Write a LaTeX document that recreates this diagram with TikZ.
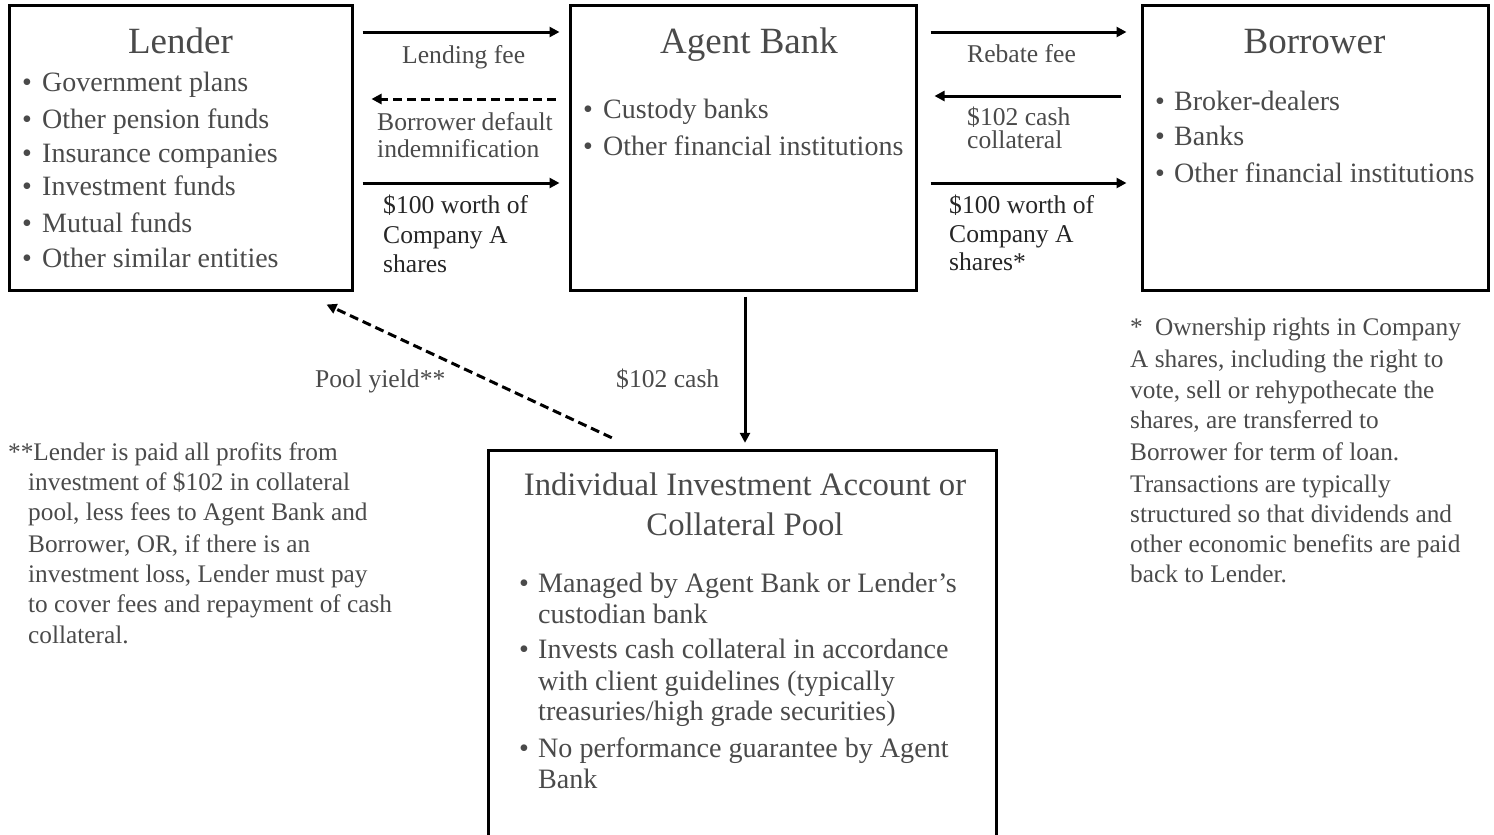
\documentclass[tikz,border=0pt]{standalone}
\usepackage{fontspec}
\setmainfont{Liberation Serif}
\usetikzlibrary{arrows.meta}
\definecolor{tg}{HTML}{4A4A4A}
\definecolor{td}{HTML}{262626}
\tikzset{
  box/.style={draw=black, line width=3pt, inner sep=0pt},
  txt/.style={anchor=base west, inner sep=0pt, text=tg},
  ttl/.style={anchor=base, inner sep=0pt, text=tg, font=\fontsize{37}{40}\selectfont},
  pttl/.style={anchor=base, inner sep=0pt, text=tg, font=\fontsize{32.7}{40}\selectfont},
  bl/.style={txt, font=\fontsize{28}{35}\selectfont},
  pbl/.style={txt, font=\fontsize{28.1}{32}\selectfont},
  lb/.style={txt, font=\fontsize{25.6}{30}\selectfont},
  lbd/.style={lb, text=td},
  fn/.style={txt, font=\fontsize{25.3}{30}\selectfont},
  arr/.style={draw=black, line width=3pt, -{Triangle[length=10pt,width=10pt]}},
  darr/.style={arr, dash pattern=on 9pt off 5pt},
}
\newcommand\bu[2]{\makebox[#1pt][l]{\textbullet}#2}
\begin{document}
\begin{tikzpicture}[x=1pt,y=-1pt]
\useasboundingbox (0,0) rectangle (1494,835);

% boxes
\node[box, minimum width=343pt, minimum height=285pt] (lender) at (180.5,147.5) {};
\node[box, minimum width=346pt, minimum height=285pt] (agent) at (743,147.5) {};
\node[box, minimum width=346pt, minimum height=285pt] (borrower) at (1315,147.5) {};
\node[inner sep=0pt, minimum width=507pt, minimum height=384pt] (pool) at (742.5,643) {};
\draw[line width=3pt] (pool.south west) -- (pool.north west) -- (pool.north east) -- (pool.south east);

% titles
\node[ttl] (tLender) at (180.5,53) {Lender};
\node[ttl] (tAgent) at (749,53) {Agent Bank};
\node[ttl] (tBorrower) at (1314.5,53) {Borrower};
\node[pttl] (tPool1) at (745,495) {Individual Investment Account or};
\node[pttl] (tPool2) at (745,535) {Collateral Pool};

% lender bullets
\node[bl] (l1) at (22,91) {\bu{20}{Government plans}};
\node[bl] (l2) at (22,128) {\bu{20}{Other pension funds}};
\node[bl] (l3) at (22,162) {\bu{20}{Insurance companies}};
\node[bl] (l4) at (22,195) {\bu{20}{Investment funds}};
\node[bl] (l5) at (22,232) {\bu{20}{Mutual funds}};
\node[bl] (l6) at (22,267) {\bu{20}{Other similar entities}};

% agent bullets
\node[bl] (a1) at (583,118) {\bu{20}{Custody banks}};
\node[bl] (a2) at (583,155) {\bu{20}{Other financial institutions}};

% borrower bullets
\node[bl] (b1) at (1155,110) {\bu{19}{Broker-dealers}};
\node[bl] (b2) at (1155,145) {\bu{19}{Banks}};
\node[bl] (b3) at (1155,182) {\bu{19}{Other financial institutions}};

% pool bullets
\node[pbl] (p1) at (519,592) {\bu{19}{Managed by Agent Bank or Lender’s}};
\node[pbl] (p2) at (538,623) {custodian bank};
\node[pbl] (p3) at (519,658) {\bu{19}{Invests cash collateral in accordance}};
\node[pbl] (p4) at (538,690) {with client guidelines (typically};
\node[pbl] (p5) at (538,720) {treasuries/high grade securities)};
\node[pbl] (p6) at (519,757) {\bu{19}{No performance guarantee by Agent}};
\node[pbl] (p7) at (538,788) {Bank};

% connectors lender <-> agent
\draw[arr, shorten <=9pt, shorten >=9pt] (lender.east |- 0,32) -- (agent.west |- 0,32);
\draw[darr, shorten <=13pt, shorten >=18pt] (agent.west |- 0,99) -- (lender.east |- 0,99);
\draw[arr, shorten <=9pt, shorten >=9pt] (lender.east |- 0,183) -- (agent.west |- 0,183);

% connectors agent <-> borrower
\draw[arr, shorten <=13pt, shorten >=14pt] (agent.east |- 0,32) -- (borrower.west |- 0,32);
\draw[arr, shorten <=20pt, shorten >=17pt] (borrower.west |- 0,96) -- (agent.east |- 0,96);
\draw[arr, shorten <=13pt, shorten >=14pt] (agent.east |- 0,183) -- (borrower.west |- 0,183);

% agent -> pool
\draw[arr, shorten <=5pt, shorten >=8pt] ([xshift=2pt]agent.south) -- ([xshift=2pt]agent.south |- pool.north);

% pool yield
\coordinate (pyStart) at ([shift={(123,-13)}]pool.north west);
\coordinate (pyEnd) at ([shift={(-27,13)}]lender.south east);
\draw[darr] (pyStart) -- (pyEnd);

% arrow labels
\node[lb] (lfee) at (402,63) {Lending fee};
\node[lb] (bdi1) at (377,130) {Borrower default};
\node[lb] (bdi2) at (377,157) {indemnification};
\node[lbd] (s1a) at (383,213) {\$100 worth of};
\node[lbd] (s1b) at (383,243) {Company A};
\node[lbd] (s1c) at (383,272) {shares};
\node[lb] (rfee) at (967,62) {Rebate fee};
\node[lb] (cc1) at (967,125) {\$102 cash};
\node[lb] (cc2) at (967,148) {collateral};
\node[lbd] (s2a) at (949,213) {\$100 worth of};
\node[lbd] (s2b) at (949,242) {Company A};
\node[lbd] (s2c) at (949,270) {shares*};
\node[lb] (cash) at (616,387) {\$102 cash};
\node[lb] (pyl) at (315,387) {Pool yield**};

% footnote right
\node[fn] (r1) at (1130,335) {\makebox[25pt][l]{*}Ownership rights in Company};
\node[fn] (r2) at (1130,367) {A shares, including the right to};
\node[fn] (r3) at (1130,398) {vote, sell or rehypothecate the};
\node[fn] (r4) at (1130,428) {shares, are transferred to};
\node[fn] (r5) at (1130,460) {Borrower for term of loan.};
\node[fn] (r6) at (1130,492) {Transactions are typically};
\node[fn] (r7) at (1130,522) {structured so that dividends and};
\node[fn] (r8) at (1130,552) {other economic benefits are paid};
\node[fn] (r9) at (1130,582) {back to Lender.};

% footnote left
\node[fn] (f1) at (8,460) {**Lender is paid all profits from};
\node[fn] (f2) at (28,490) {investment of \$102 in collateral};
\node[fn] (f3) at (28,520) {pool, less fees to Agent Bank and};
\node[fn] (f4) at (28,552) {Borrower, OR, if there is an};
\node[fn] (f5) at (28,582) {investment loss, Lender must pay};
\node[fn] (f6) at (28,612) {to cover fees and repayment of cash};
\node[fn] (f7) at (28,643) {collateral.};
\end{tikzpicture}
\end{document}
